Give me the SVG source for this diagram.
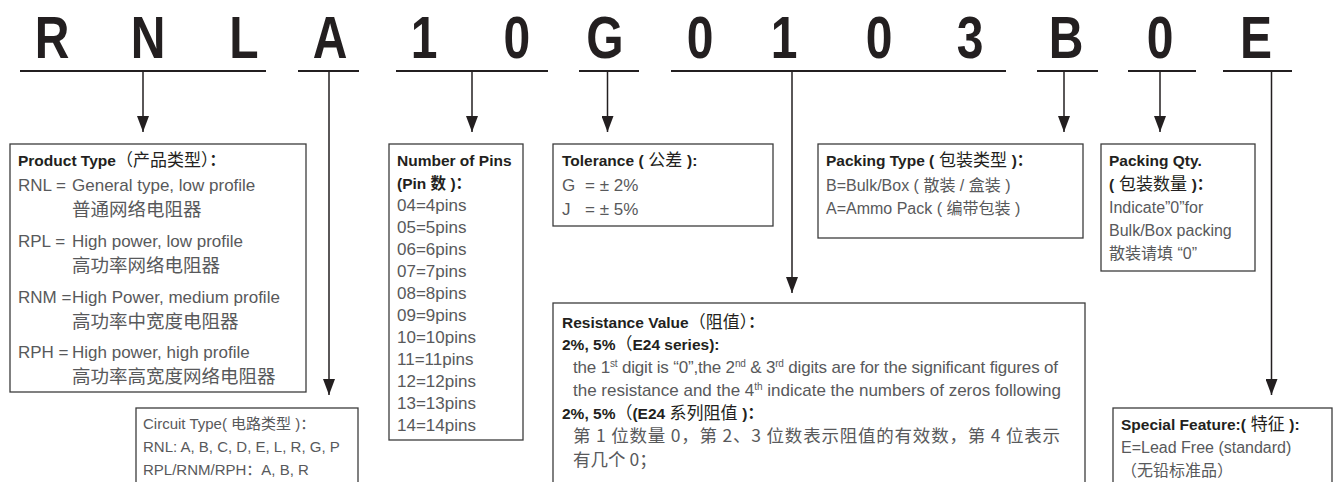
<svg xmlns="http://www.w3.org/2000/svg" width="1337" height="482" viewBox="0 0 1337 482">
<defs>
<marker id="ah" viewBox="0 0 16 12" refX="16" refY="6" markerWidth="16" markerHeight="12" markerUnits="userSpaceOnUse" orient="auto">
<path d="M0,0 L16,6 L0,12 z" fill="#231f20"/>
</marker>
<style>
.big{font-family:"Liberation Sans",Arial,sans-serif;font-weight:bold;font-size:60px;fill:#231f20;text-anchor:middle}
.ul{stroke:#231f20;stroke-width:2.2;fill:none}
.stem{stroke:#231f20;stroke-width:1.5;fill:none;marker-end:url(#ah)}
.box{fill:#fff;stroke:#3c3c3c;stroke-width:1.3}
.h{font-family:"Liberation Sans","Noto Sans CJK SC",sans-serif;font-weight:bold;font-size:15.5px;fill:#231f20}
.hc{font-weight:normal;font-size:17px}
.t{font-family:"Liberation Sans","Noto Sans CJK SC",sans-serif;font-size:17px;fill:#58595b}
.s{font-family:"Liberation Sans","Noto Sans CJK SC",sans-serif;font-size:16px;fill:#58595b}
.s15{font-family:"Liberation Sans","Noto Sans CJK SC",sans-serif;font-size:15px;fill:#58595b}
.c{font-family:"Noto Sans CJK SC",sans-serif;font-size:18.5px;fill:#58595b}
.c2{font-family:"Noto Sans CJK SC",sans-serif;font-size:17.5px;fill:#58595b}
.sup{font-size:10px}
</style>
</defs>
<rect width="1337" height="482" fill="#ffffff"/>

<g id="code" transform="scale(0.8,1)">
<text class="big" x="65" y="58">R</text>
<text class="big" x="185" y="58">N</text>
<text class="big" x="305" y="58">L</text>
<text class="big" x="412.5" y="58">A</text>
<text class="big" x="530" y="58">1</text>
<text class="big" x="646" y="58">0</text>
<text class="big" x="756" y="58">G</text>
<text class="big" x="875" y="58">0</text>
<text class="big" x="980" y="58">1</text>
<text class="big" x="1099" y="58">0</text>
<text class="big" x="1212.5" y="58">3</text>
<text class="big" x="1332.5" y="58">B</text>
<text class="big" x="1450" y="58">0</text>
<text class="big" x="1570" y="58">E</text>
</g>

<g id="connectors">
<line class="ul" x1="20" y1="71" x2="266" y2="71"/>
<line class="ul" x1="298" y1="71" x2="359" y2="71"/>
<line class="ul" x1="396" y1="71" x2="548" y2="71"/>
<line class="ul" x1="579" y1="71" x2="639" y2="71"/>
<line class="ul" x1="671" y1="71" x2="1006" y2="71"/>
<line class="ul" x1="1037" y1="71" x2="1098" y2="71"/>
<line class="ul" x1="1128" y1="71" x2="1196" y2="71"/>
<line class="ul" x1="1223" y1="71" x2="1292" y2="71"/>
<line class="stem" x1="143" y1="72" x2="143" y2="132"/>
<line class="stem" x1="329" y1="72" x2="329" y2="395"/>
<line class="stem" x1="472" y1="72" x2="472" y2="132"/>
<line class="stem" x1="607.5" y1="72" x2="607.5" y2="132"/>
<line class="stem" x1="792" y1="72" x2="792" y2="293"/>
<line class="stem" x1="1064" y1="72" x2="1064" y2="132"/>
<line class="stem" x1="1160" y1="72" x2="1160" y2="132"/>
<line class="stem" x1="1271.5" y1="72" x2="1271.5" y2="395"/>
</g>

<g id="product-type">
<rect class="box" x="10" y="144" width="296" height="248"/>
<text class="h" x="18" y="166">Product Type<tspan class="hc">（产品类型）</tspan>：</text>
<text class="t" y="191"><tspan x="18">RNL =</tspan><tspan x="72">General type, low profile</tspan></text>
<text class="c" x="72" y="216">普通网络电阻器</text>
<text class="t" y="247"><tspan x="18">RPL =</tspan><tspan x="72">High power, low profile</tspan></text>
<text class="c" x="72" y="272">高功率网络电阻器</text>
<text class="t" y="303"><tspan x="18">RNM =</tspan><tspan x="72">High Power, medium profile</tspan></text>
<text class="c" x="72" y="328">高功率中宽度电阻器</text>
<text class="t" y="358"><tspan x="18">RPH =</tspan><tspan x="72">High power, high profile</tspan></text>
<text class="c" x="72" y="383">高功率高宽度网络电阻器</text>
</g>

<g id="circuit-type">
<rect class="box" x="136" y="408" width="222" height="100"/>
<text class="s15" x="143" y="429">Circuit Type( 电路类型 )：</text>
<text class="s15" x="143" y="452">RNL: A, B, C, D, E, L, R, G, P</text>
<text class="s15" x="143" y="475">RPL/RNM/RPH：A, B, R</text>
</g>

<g id="number-of-pins">
<rect class="box" x="389" y="144" width="134" height="296"/>
<text class="h" x="397" y="166">Number of Pins</text>
<text class="h" x="397" y="189">(Pin 数 )：</text>
<text class="t" x="397" y="210.5">04=4pins</text>
<text class="t" x="397" y="232.5">05=5pins</text>
<text class="t" x="397" y="254.5">06=6pins</text>
<text class="t" x="397" y="276.5">07=7pins</text>
<text class="t" x="397" y="298.5">08=8pins</text>
<text class="t" x="397" y="320.5">09=9pins</text>
<text class="t" x="397" y="342.5">10=10pins</text>
<text class="t" x="397" y="364.5">11=11pins</text>
<text class="t" x="397" y="386.5">12=12pins</text>
<text class="t" x="397" y="408.5">13=13pins</text>
<text class="t" x="397" y="430.5">14=14pins</text>
</g>

<g id="tolerance">
<rect class="box" x="553" y="144" width="220" height="82"/>
<text class="h" x="562" y="166">Tolerance (<tspan class="hc"> 公差 </tspan>):</text>
<text class="t" y="191"><tspan x="562">G</tspan><tspan x="585">= ± 2%</tspan></text>
<text class="t" y="215"><tspan x="562">J</tspan><tspan x="585">= ± 5%</tspan></text>
</g>

<g id="resistance-value">
<rect class="box" x="553" y="303" width="532" height="200"/>
<text class="h" x="562" y="328">Resistance Value<tspan class="hc">（阻值）</tspan>：</text>
<text class="h" x="562" y="350">2%, 5%<tspan class="hc">（</tspan>E24 series):</text>
<text class="t" x="573" y="373" textLength="485" lengthAdjust="spacing">the 1<tspan class="sup" dy="-6">st</tspan><tspan dy="6"> digit is “0”,the 2</tspan><tspan class="sup" dy="-6">nd</tspan><tspan dy="6"> &amp; 3</tspan><tspan class="sup" dy="-6">rd</tspan><tspan dy="6"> digits are for the significant figures of</tspan></text>
<text class="t" x="573" y="396" textLength="488" lengthAdjust="spacing">the resistance and the 4<tspan class="sup" dy="-6">th</tspan><tspan dy="6"> indicate the numbers of zeros following</tspan></text>
<text class="h" x="562" y="419">2%, 5%<tspan class="hc">（</tspan>(E24 <tspan class="hc">系列阻值 </tspan>)：</text>
<text class="c2" x="573" y="442" textLength="487" lengthAdjust="spacing">第 1 位数量 0，第 2、3 位数表示阻值的有效数，第 4 位表示</text>
<text class="c2" x="573" y="466">有几个 0；</text>
</g>

<g id="packing-type">
<rect class="box" x="818" y="144" width="265" height="94"/>
<text class="h" x="826" y="166">Packing Type (<tspan class="hc"> 包装类型 </tspan>)：</text>
<text class="s" x="826" y="191">B=Bulk/Box ( 散装 / 盒装 )</text>
<text class="s" x="826" y="214">A=Ammo Pack ( 编带包装 )</text>
</g>

<g id="packing-qty">
<rect class="box" x="1101" y="144" width="154" height="127"/>
<text class="h" x="1109" y="166">Packing Qty.</text>
<text class="h" x="1109" y="190">(<tspan class="hc"> 包装数量 </tspan>)：</text>
<text class="s" x="1109" y="213">Indicate”0”for</text>
<text class="s" x="1109" y="236">Bulk/Box packing</text>
<text class="s" x="1109" y="259">散装请填 “0”</text>
</g>

<g id="special-feature">
<rect class="box" x="1113" y="408" width="219" height="100"/>
<text class="h" x="1121" y="430">Special Feature:(<tspan class="hc"> 特征 </tspan>):</text>
<text class="s" x="1121" y="453">E=Lead Free (standard)</text>
<text class="s" x="1121" y="476">（无铅标准品）</text>
</g>
</svg>
